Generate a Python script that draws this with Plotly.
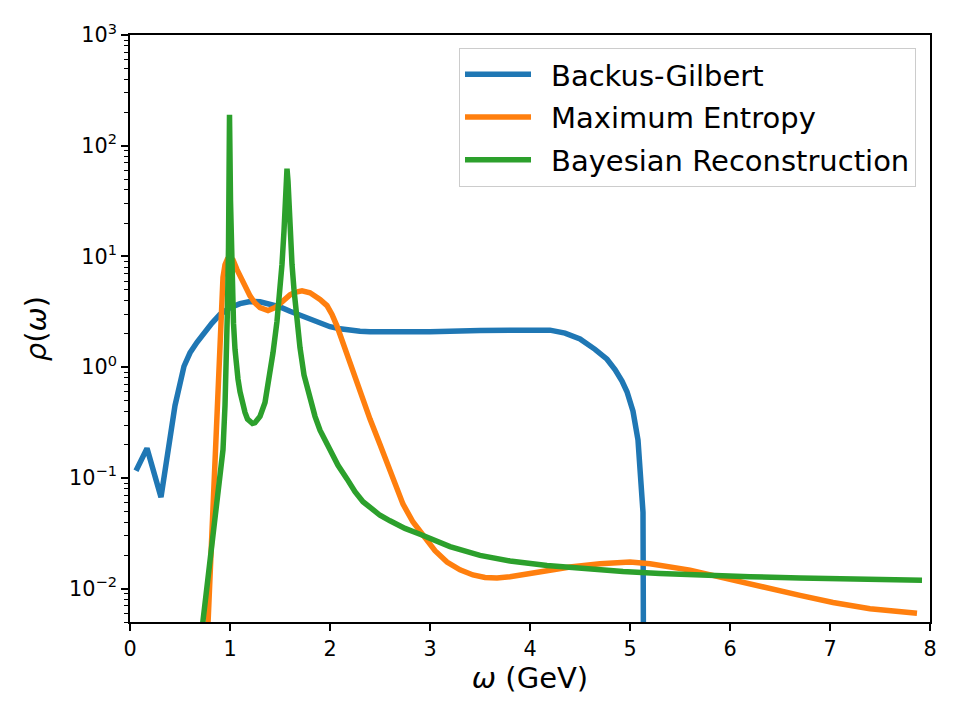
import plotly.graph_objects as go

# ---------------- data ----------------
bg_omega = [0.06, 0.17, 0.31, 0.45, 0.54, 0.6, 0.67, 0.75, 0.82, 0.9, 1.0, 1.1, 1.2, 1.3, 1.4,
            1.5, 1.6, 1.7, 1.8, 1.9, 2.0, 2.1, 2.2, 2.3, 2.4, 2.7, 3.0, 3.5, 4.0, 4.2, 4.35,
            4.5, 4.65, 4.77, 4.85, 4.92, 4.97, 5.03, 5.08, 5.13, 5.14]
bg_rho = [0.116, 0.185, 0.067, 0.45, 1.02, 1.35, 1.68, 2.1, 2.5, 3.0, 3.45, 3.75, 3.92, 3.9,
          3.72, 3.5, 3.2, 2.95, 2.7, 2.48, 2.32, 2.22, 2.15, 2.11, 2.09, 2.07, 2.09, 2.15,
          2.2, 2.16, 2.03, 1.8, 1.45, 1.18, 0.95, 0.75, 0.6, 0.4, 0.22, 0.049, 0.0001]

me_omega = [0.77, 0.85, 0.88, 0.9, 0.93, 0.95, 0.975, 1.0, 1.03, 1.07, 1.1, 1.13, 1.17, 1.2,
            1.25, 1.3, 1.38, 1.45, 1.5, 1.55, 1.6, 1.65, 1.72, 1.8, 1.85, 1.9, 1.97, 2.02,
            2.07, 2.12, 2.17, 2.25, 2.33, 2.4, 2.5, 2.6, 2.67, 2.73, 2.83, 2.93, 3.05, 3.17,
            3.3, 3.43, 3.55, 3.67, 3.8, 4.0, 4.2, 4.4, 4.7, 5.0, 5.2, 5.37, 5.6, 5.87, 6.1,
            6.37, 6.7, 7.03, 7.4, 7.87]
me_rho = [0.003, 0.18, 0.7, 1.45, 6.5, 8.4, 9.5, 9.8, 9.3, 7.6, 6.6, 5.8, 4.9, 4.4,
          3.8, 3.45, 3.25, 3.45, 3.75, 4.15, 4.5, 4.75, 4.9, 4.7, 4.4, 4.1, 3.6, 3.0,
          2.35, 1.75, 1.3, 0.8, 0.5, 0.34, 0.2, 0.115, 0.08, 0.058, 0.04, 0.03, 0.022,
          0.0174, 0.0148, 0.0133, 0.0126, 0.0125, 0.0128, 0.0137, 0.0147, 0.0157, 0.0168,
          0.0174, 0.0168, 0.016, 0.0147, 0.0129, 0.0115, 0.0101, 0.0087, 0.0075, 0.0066,
          0.006]

br_omega = [0.71, 0.93, 0.95, 0.965, 0.975, 0.985, 0.99, 0.995, 1.0, 1.005, 1.015, 1.025,
            1.035, 1.05, 1.065, 1.08, 1.1, 1.125, 1.15, 1.175, 1.2, 1.225, 1.25, 1.3, 1.35,
            1.4, 1.43, 1.47, 1.5, 1.52, 1.54, 1.55, 1.56, 1.57, 1.58, 1.59, 1.6, 1.62, 1.64,
            1.67, 1.7, 1.74, 1.8, 1.85, 1.9, 2.0, 2.08, 2.17, 2.25, 2.33, 2.4, 2.5, 2.6,
            2.75, 2.9, 3.05, 3.2, 3.5, 3.8, 4.17, 4.5, 4.93, 5.3, 5.7, 6.2, 6.7, 7.3, 7.92]
br_rho = [0.0036, 0.18, 0.45, 1.2, 3.5, 12.0, 40.0, 190.0, 80.0, 32.0, 9.0, 4.3,
          2.5, 1.45, 1.0, 0.78, 0.6, 0.47, 0.39, 0.34, 0.32, 0.31, 0.315, 0.36, 0.48,
          0.85, 1.35, 2.6, 5.0, 8.5, 17.0, 29.0, 48.0, 62.0, 48.0, 29.0, 17.0, 8.5,
          5.0, 2.6, 1.5, 0.85, 0.5, 0.36, 0.27, 0.176, 0.13, 0.098, 0.075, 0.061, 0.054,
          0.046, 0.041, 0.035, 0.031, 0.027, 0.024, 0.020, 0.0178, 0.0162, 0.0152,
          0.0143, 0.0137, 0.0132, 0.0128, 0.0125, 0.0122, 0.0119]

series_names = ["Backus-Gilbert", "Maximum Entropy", "Bayesian Reconstruction"]
series_colors = ["#1f77b4", "#ff7f0e", "#2ca02c"]

x_ticks = [0, 1, 2, 3, 4, 5, 6, 7, 8]
y_ticks = [1e-2, 1e-1, 1e0, 1e1, 1e2, 1e3]
y_ticktext = ["10<sup>\u22122</sup>", "10<sup>\u22121</sup>", "10<sup>0</sup>",
              "10<sup>1</sup>", "10<sup>2</sup>", "10<sup>3</sup>"]

# ---------------- figure ----------------
FONT = "DejaVu Sans"
LEGEND_PAD = "\u00a0\u2009"   # gap between legend line and label, as in the reference
fig = go.Figure()
for i, (xs, ys) in enumerate([(bg_omega, bg_rho), (me_omega, me_rho), (br_omega, br_rho)]):
    fig.add_trace(go.Scatter(x=xs, y=ys, mode="lines", name=LEGEND_PAD + series_names[i],
                             legendgroup=f"g{i}",
                             line=dict(color=series_colors[i], width=5.5)))

minor_vals = [m * 10.0 ** k for k in range(-3, 3) for m in range(2, 10)]

fig.update_layout(
    width=960, height=720,
    margin=dict(l=130, r=30, t=35, b=98),
    paper_bgcolor="white", plot_bgcolor="white",
    font=dict(family=FONT, color="black", size=20.8),
    showlegend=True,
    legend=dict(x=0.9825, y=0.978, xanchor="right", yanchor="top",
                bgcolor="white", bordercolor="#cccccc", borderwidth=1,
                font=dict(family=FONT, size=29, color="black"),
                traceorder="grouped", tracegroupgap=2,
                itemwidth=66),
)

fig.update_xaxes(
    range=[0, 8], tickvals=x_ticks, ticktext=[str(v) for v in x_ticks],
    showgrid=False, zeroline=False,
    showline=True, linecolor="black", linewidth=1.6, mirror=True,
    ticks="outside", ticklen=7, tickwidth=1.6, tickcolor="black",
    tickfont=dict(family=FONT, size=20.8, color="black"),
    title=dict(text="<i>\u03c9</i> (GeV)", font=dict(family=FONT, size=29, color="black"),
               standoff=6),
)

fig.update_yaxes(
    type="log", range=[-2.30103, 3],
    tickvals=y_ticks, ticktext=y_ticktext,
    showgrid=False, zeroline=False,
    showline=True, linecolor="black", linewidth=1.6, mirror=True,
    ticks="outside", ticklen=7, tickwidth=1.6, tickcolor="black",
    tickfont=dict(family=FONT, size=20.8, color="black"),
    minor=dict(tickvals=minor_vals, ticks="outside", ticklen=4, tickwidth=1.2,
               tickcolor="black", showgrid=False),
    title=dict(text="<i>\u03c1</i>(<i>\u03c9</i>)", font=dict(family=FONT, size=29, color="black"),
               standoff=14),
)

fig.write_html("out.html")
